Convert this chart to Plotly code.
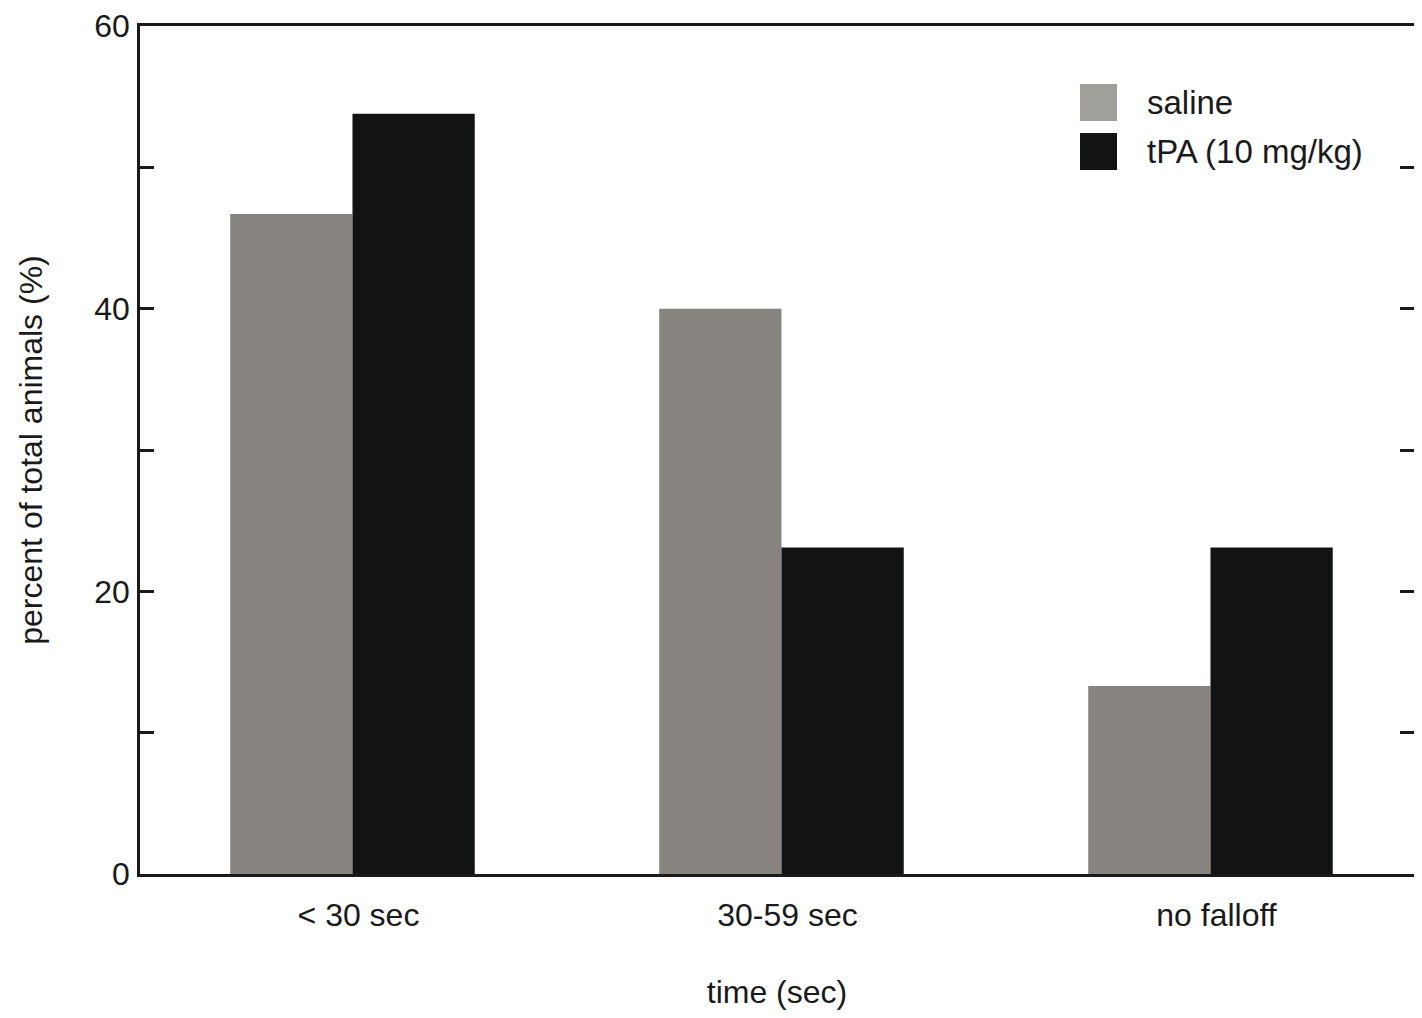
import plotly.graph_objects as go

categories = ["< 30 sec", "30-59 sec", "no falloff"]
saline = [46.7, 40.0, 13.3]
tpa = [53.8, 23.1, 23.1]
series_names = ["saline", "tPA (10 mg/kg)"]
y_tick_vals = [0, 10, 20, 30, 40, 50, 60]
y_tick_text = ["0", "", "20", "", "40", "", "60"]
right_tick_vals = [10, 20, 30, 40, 50]

# page body has a small margin; keep figure inside the window
OFF = 8
W, H = 1406, 1002
ML, MR, MT, MB = 132, 0, 18, 136
FONT = "Liberation Sans, Arial, sans-serif"
INK = "#1a1a1a"
SAL_BAR = "#878480"
SAL_KEY = "#a19f9a"
TPA = "#121413"

def px_x(p):
    return (p - OFF - ML) / (W - ML - MR)

def px_y(p):
    return 1 - (p - 8 - MT) / (H - MT - MB)

fig = go.Figure()
fig.add_trace(go.Bar(x=categories, y=saline, name=series_names[0],
                     marker=dict(color=SAL_BAR, line=dict(width=0)), showlegend=False))
fig.add_trace(go.Bar(x=categories, y=tpa, name=series_names[1],
                     marker=dict(color=TPA, line=dict(width=0)), showlegend=False))
fig.add_trace(go.Scatter(x=[], y=[], yaxis="y2", showlegend=False, hoverinfo="skip"))

# manual legend (large swatches)
keys = [(series_names[0], SAL_KEY, 84, 121), (series_names[1], TPA, 133, 170)]
for name, col, y0, y1 in keys:
    fig.add_shape(type="rect", xref="paper", yref="paper",
                  x0=px_x(1080), x1=px_x(1117), y0=px_y(y1), y1=px_y(y0),
                  fillcolor=col, line=dict(width=0))
    fig.add_annotation(xref="paper", yref="paper", x=px_x(1145), y=px_y((y0 + y1) / 2),
                       text=name, showarrow=False, xanchor="left", yanchor="middle",
                       font=dict(family=FONT, size=33, color=INK))

fig.update_layout(
    width=W, height=H,
    margin=dict(l=ML, r=MR, t=MT, b=MB, autoexpand=False),
    paper_bgcolor="white", plot_bgcolor="white",
    barmode="group", bargap=0.43, bargroupgap=0,
    font=dict(family=FONT, size=32, color=INK),
    xaxis=dict(range=[-0.4953, 2.4744], showline=True, linecolor=INK, linewidth=2.5,
               mirror=True, ticks="", showgrid=False, zeroline=False, automargin=False,
               tickfont=dict(size=32), ticklabelstandoff=11, ticklabelshift=6,
               title=dict(text="time (sec)", font=dict(size=32), standoff=66)),
    yaxis=dict(range=[0, 60], tickvals=y_tick_vals, ticktext=y_tick_text,
               ticks="inside", ticklen=14, tickwidth=2.5, tickcolor=INK,
               showline=True, linecolor=INK, linewidth=2.5, showgrid=False,
               zeroline=False, automargin=False, tickfont=dict(size=32), ticklabelstandoff=1,
               ticklabeloverflow="allow",
               title=dict(text="percent of total animals (%)", font=dict(size=32), standoff=43)),
    yaxis2=dict(range=[0, 60], overlaying="y", side="right", anchor="x",
                tickvals=right_tick_vals, ticks="inside", ticklen=14, tickwidth=2.5,
                tickcolor=INK, showticklabels=False, showline=False, showgrid=False,
                zeroline=False, automargin=False),
)

fig.write_html("out.html")
